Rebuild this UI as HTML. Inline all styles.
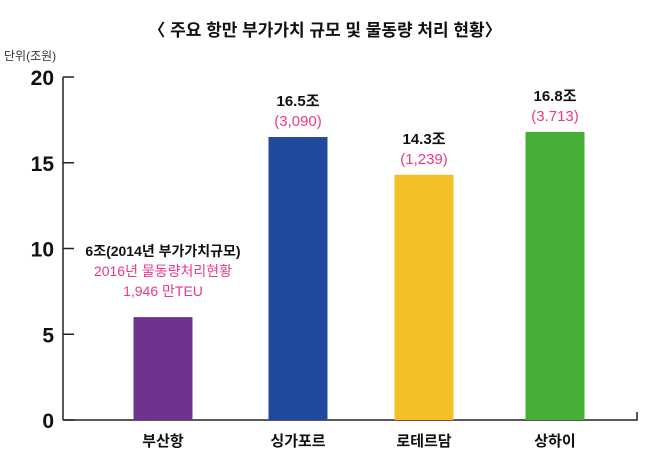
<!DOCTYPE html>
<html><head><meta charset="utf-8"><style>
body{margin:0;background:#fff;}
svg text{font-family:"Liberation Sans","Noto Sans CJK KR",sans-serif;}
</style></head><body>
<svg id="chart" width="650" height="466" viewBox="0 0 650 466" xmlns="http://www.w3.org/2000/svg">
<text x="325" y="36" text-anchor="middle" font-size="17" font-weight="bold" fill="#111">〈 주요 항만 부가가치 규모 및 물동량 처리 현황〉</text>
<text x="4" y="60" font-size="12" fill="#333">단위(조원)</text>
<g id="axes"></g><g id="bars"></g><g id="labels"></g>
</svg>
<script>
const categories=["부산항","싱가포르","로테르담","상하이"];
const values=[6,16.5,14.3,16.8];
const valueLabels=["6조(2014년 부가가치규모)","16.5조","14.3조","16.8조"];
const volumeLabels=["(3,090)","(1,239)","(3.713)"];
const colors=["#6f338f","#214a9e","#f5bf26","#45b035"];
const yTicks=[0,5,10,15,20];
const NS="http://www.w3.org/2000/svg";
const x0=63,x1=637,yBase=420,pxPer=17.15;
const centers=[163,298,424,555],barW=59;
const y=v=>yBase-v*pxPer;
function mk(tag,attrs,parent,text){const e=document.createElementNS(NS,tag);for(const k in attrs)e.setAttribute(k,attrs[k]);if(text!==undefined)e.textContent=text;parent.appendChild(e);return e;}
const axes=document.getElementById('axes'),bars=document.getElementById('bars'),labels=document.getElementById('labels');
let a=mk('line',{x1:x0,y1:y(20),x2:x0,y2:yBase,stroke:'#222','stroke-width':1.5},axes);


a=mk('polyline',{points:`${x0},${yBase} ${x1},${yBase} ${x1},${yBase-8}`,fill:'none',stroke:'#222','stroke-width':1.5},axes);


yTicks.forEach(t=>{
 const l=mk('line',{x1:x0,y1:y(t),x2:x0+11,y2:y(t),stroke:'#222','stroke-width':1.5},axes);
 
 
 const tx=mk('text',{x:54,y:y(t)+8,'text-anchor':'end','font-size':21,'font-weight':'bold',fill:'#111'},axes,String(t));
 
 
});
categories.forEach((c,i)=>{
 const cx=centers[i];
 const r=mk('rect',{x:cx-barW/2,y:y(values[i]),width:barW,height:yBase-y(values[i]),fill:colors[i]},bars);
 
 
 const cl=mk('text',{x:cx,y:446,'text-anchor':'middle','font-size':15,'font-weight':'bold',fill:'#111'},labels,c);
 
 
 const top=y(values[i]);
 if(i===0){
  const t1=mk('text',{x:cx,y:top-61,'text-anchor':'middle','font-size':14,'font-weight':'bold',fill:'#111'},labels,valueLabels[0]);
  
  
  const t2=mk('text',{x:cx,y:top-41,'text-anchor':'middle','font-size':14,fill:'#e8388a'},labels,'2016년 물동량처리현황');
  
  
  const t3=mk('text',{x:cx,y:top-21,'text-anchor':'middle','font-size':14,fill:'#e8388a'},labels,'1,946 만TEU');
  
  
 }else{
  const t1=mk('text',{x:cx,y:top-31,'text-anchor':'middle','font-size':15,'font-weight':'bold',fill:'#111'},labels,valueLabels[i]);
  
  
  const t2=mk('text',{x:cx,y:top-11,'text-anchor':'middle','font-size':15,fill:'#e8388a'},labels,volumeLabels[i-1]);
  
  
 }
});
</script>
</body></html>
